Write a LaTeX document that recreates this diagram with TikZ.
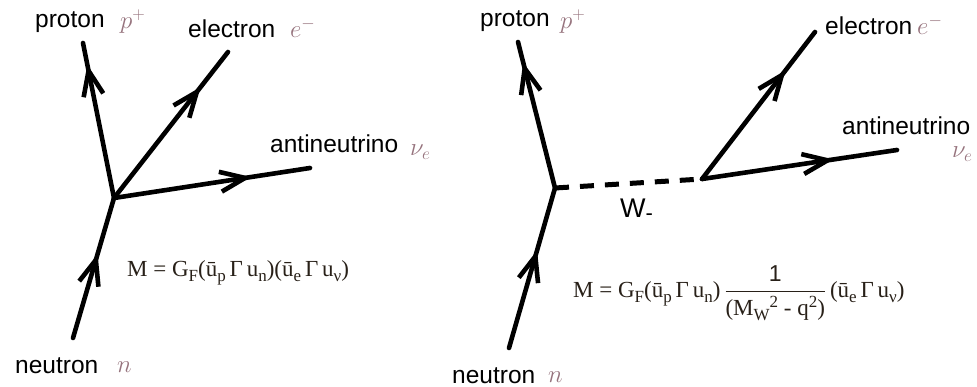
\documentclass[tikz,border=0pt]{standalone}
\usepackage{amsmath}
\usepackage{fontspec}
\setmainfont{Liberation Serif}
\setsansfont{Liberation Sans}
\usetikzlibrary{arrows.meta,decorations.markings}
\definecolor{mathc}{RGB}{150,115,125}
\definecolor{fcol}{RGB}{40,32,24}
\newcommand\lo[1]{\raisebox{-5pt}{\fontsize{17}{17}\selectfont #1}}
\newcommand\hi[1]{\raisebox{8pt}{\fontsize{17}{17}\selectfont #1}}
\tikzset{
 particle/.style={line width=4.6pt, line cap=round, postaction={decorate},
   decoration={markings, mark=at position #1 with {\arrow{Straight Barb[length=25pt,width=20pt,line width=4.6pt]}}}},
 wline/.style={line width=5pt, dash pattern=on 14pt off 11pt},
 lbl/.style={font=\sffamily\fontsize{24.5}{28}\selectfont, inner sep=0pt, anchor=base west},
 mlbl/.style={text=mathc, font=\fontsize{26}{30}\selectfont, inner sep=0pt, anchor=base west},
 formula/.style={text=fcol, font=\fontsize{23}{27}\selectfont, inner sep=0pt, anchor=base west},
}
\begin{document}
\begin{tikzpicture}[x=1pt,y=-1pt]
\useasboundingbox (0,0) rectangle (977,387);
% left diagram
\coordinate (v1) at (114,198);
\coordinate (n1) at (73,338);
\coordinate (p1) at (83,43);
\coordinate (e1) at (228,52);
\coordinate (a1) at (310,168);
\draw[particle=0.6] (n1) -- (v1);
\draw[particle=0.86] (v1) -- (p1);
\draw[particle=0.76] (v1) -- (e1);
\draw[particle=0.7] (v1) -- (a1);
\node[lbl] (tp1) at (35,28) {proton};
\node[mlbl] (mp1) at (120,29) {$p^+$};
\node[lbl] (te1) at (188,38) {electron};
\node[mlbl] (me1) at (290,38) {$e^-$};
\node[lbl] (ta1) at (270,153) {antineutrino};
\node[mlbl] (ma1) at (410,156) {$\nu_e$};
\node[lbl] (tn1) at (15,373) {neutron};
\node[mlbl] (mn1) at (117,372) {$n$};
\node[formula] (f1) at (127,277) {M = G\lo{F}(ū\lo{p}\,Γ\,u\lo{n})(ū\lo{e}\,Γ\,u\lo{ν})};
% right diagram
\coordinate (v2) at (555,188);
\coordinate (w2) at (702,179);
\coordinate (n2) at (509,348);
\coordinate (p2) at (518,42);
\coordinate (e2) at (815,32);
\coordinate (a2) at (897,150);
\draw[particle=0.61] (n2) -- (v2);
\draw[particle=0.86] (v2) -- (p2);
\draw[wline] (v2) -- (w2);
\draw[particle=0.74] (w2) -- (e2);
\draw[particle=0.675] (w2) -- (a2);
\node[lbl] (tp2) at (480,27) {proton};
\node[mlbl] (mp2) at (560,29) {$p^+$};
\node[lbl] (te2) at (825,35) {electron};
\node[mlbl] (me2) at (917,35) {$e^-$};
\node[lbl] (ta2) at (842,135) {antineutrino};
\node[mlbl] (ma2) at (952,158) {$\nu_e$};
\node[lbl, font=\sffamily\fontsize{27}{30}\selectfont] (tw) at (620,218) {W\raisebox{-3pt}{\fontsize{22}{22}\selectfont -}};
\node[lbl] (tn2) at (452,383) {neutron};
\node[mlbl] (mn2) at (548,382) {$n$};
\node[formula] (f2) at (573,298) {M = G\lo{F}(ū\lo{p}\,Γ\,u\lo{n})\,$\dfrac{\text{\sffamily 1}}{\text{(M\lo{W}\hi{2} - q\hi{2})}}$\,(ū\lo{e}\,Γ\,u\lo{ν})};
\end{tikzpicture}
\end{document}
